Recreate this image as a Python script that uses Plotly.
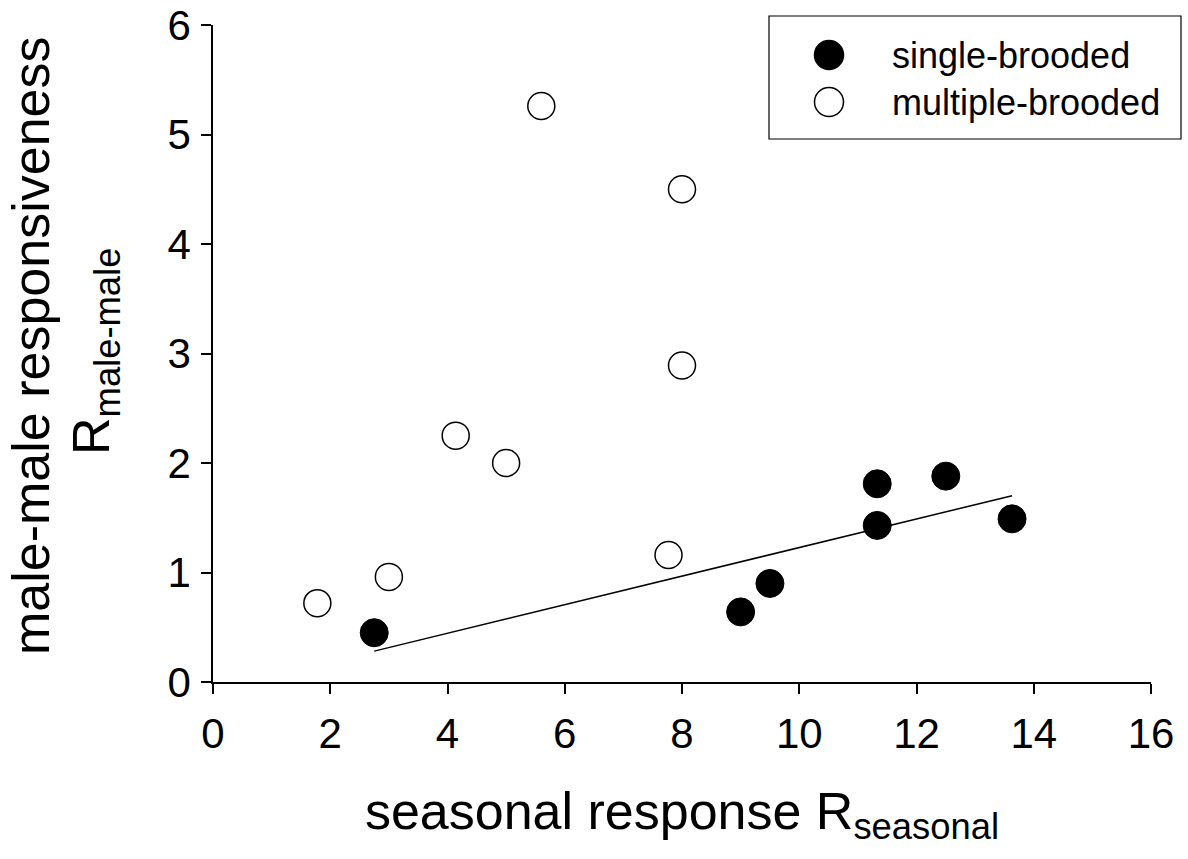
import numpy as np
import plotly.graph_objects as go

# Data
single_x = [2.75, 9.0, 9.5, 11.33, 11.33, 12.5, 13.63]
single_y = [0.45, 0.64, 0.90, 1.81, 1.43, 1.88, 1.49]
multi_x = [1.78, 3.0, 4.14, 5.0, 5.6, 8.0, 8.0, 7.77]
multi_y = [0.72, 0.96, 2.25, 2.0, 5.26, 4.5, 2.89, 1.16]
legend_labels = ["single-brooded", "multiple-brooded"]
x_ticks = [0, 2, 4, 6, 8, 10, 12, 14, 16]
y_ticks = [0, 1, 2, 3, 4, 5, 6]

FONT = "Liberation Sans, Arial, sans-serif"

# linear fit of single-brooded species
slope, intercept = np.polyfit(single_x, single_y, 1)
fit_x = [min(single_x), max(single_x)]
fit_y = [slope * v + intercept for v in fit_x]

fig = go.Figure()
fig.add_trace(go.Scatter(x=fit_x, y=fit_y, mode="lines",
                         line=dict(color="black", width=1.5), showlegend=False,
                         hoverinfo="skip"))
fig.add_trace(go.Scatter(x=single_x, y=single_y, mode="markers", name=legend_labels[0],
                         marker=dict(size=28, color="black", line=dict(color="black", width=1)),
                         showlegend=False))
fig.add_trace(go.Scatter(x=multi_x, y=multi_y, mode="markers", name=legend_labels[1],
                         marker=dict(size=27, color="white", line=dict(color="black", width=1.5)),
                         showlegend=False))

W, H = 1188, 859
L, T = 213, 25
pw, ph = 938, 657
R = W - L - pw
B = H - T - ph


def px2paper_x(px):
    return (px - L) / pw


def px2paper_y(py):
    return (T + ph - py) / ph


# legend (drawn manually to keep large symbols)
shapes = [dict(type="rect", xref="paper", yref="paper",
               x0=px2paper_x(769), x1=px2paper_x(1181),
               y0=px2paper_y(139), y1=px2paper_y(16),
               line=dict(color="black", width=1.2), fillcolor="white", layer="above")]
leg_y = [55, 102]
fills = ["black", "white"]
for i, lab in enumerate(legend_labels):
    shapes.append(dict(type="circle", xref="paper", yref="paper",
                       xsizemode="pixel", ysizemode="pixel",
                       xanchor=px2paper_x(829), yanchor=px2paper_y(leg_y[i]),
                       x0=-14.5, x1=14.5, y0=-14.5, y1=14.5,
                       fillcolor=fills[i], line=dict(color="black", width=1.5), layer="above"))

annotations = []
for i, lab in enumerate(legend_labels):
    annotations.append(dict(xref="paper", yref="paper", x=px2paper_x(890), y=px2paper_y(leg_y[i]),
                            xanchor="left", yanchor="middle", text=lab, showarrow=False,
                            font=dict(family=FONT, size=36, color="black")))

annotations.append(dict(xref="paper", yref="paper", x=px2paper_x(31), y=px2paper_y(346),
                        xanchor="center", yanchor="middle", textangle=-90,
                        text="male-male responsiveness", showarrow=False,
                        font=dict(family=FONT, size=52, color="black")))
annotations.append(dict(xref="paper", yref="paper", x=px2paper_x(95), y=px2paper_y(352),
                        xanchor="center", yanchor="middle", textangle=-90,
                        text="R<sub>male-male</sub>", showarrow=False,
                        font=dict(family=FONT, size=52, color="black")))

fig.update_layout(
    width=W, height=H,
    margin=dict(l=L, r=R, t=T, b=B),
    paper_bgcolor="white", plot_bgcolor="white",
    font=dict(family=FONT, color="black"),
    shapes=shapes, annotations=annotations,
    xaxis=dict(range=[0, 16], tickvals=x_ticks, ticktext=[str(v) for v in x_ticks],
               showgrid=False, zeroline=False, showline=True, linecolor="black", linewidth=1.5,
               ticks="outside", ticklen=10, tickwidth=1.5, tickcolor="black",
               ticklabelstandoff=4, ticklabeloverflow="allow",
               tickfont=dict(family=FONT, size=42, color="black"),
               title=dict(text="seasonal response R<sub>seasonal</sub>",
                          font=dict(family=FONT, size=52, color="black"), standoff=36),
               automargin=False),
    yaxis=dict(range=[0, 6], tickvals=y_ticks, ticktext=[str(v) for v in y_ticks],
               showgrid=False, zeroline=False, showline=True, linecolor="black", linewidth=1.5,
               ticks="outside", ticklen=10, tickwidth=1.5, tickcolor="black",
               ticklabelstandoff=2, ticklabeloverflow="allow",
               tickfont=dict(family=FONT, size=42, color="black"),
               automargin=False),
)

fig.write_html("out.html", config={"displayModeBar": False},
               post_script="document.body.style.margin='0';")
